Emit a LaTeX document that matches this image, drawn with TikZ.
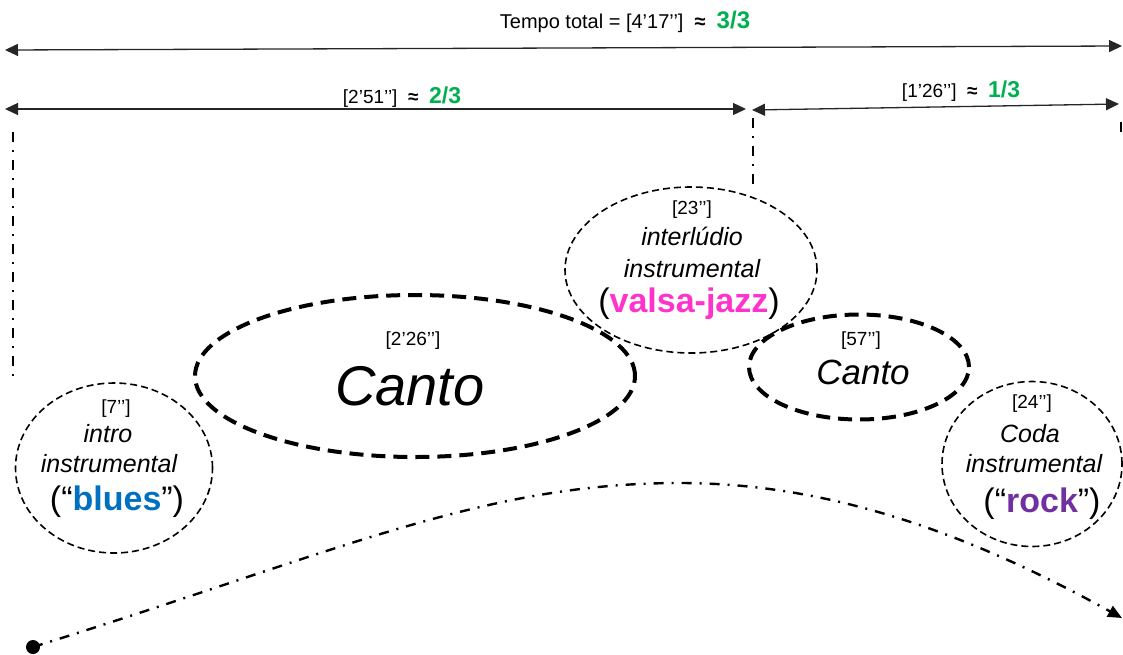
\documentclass[tikz,border=0pt]{standalone}
\usepackage{fontspec}
\setmainfont{Liberation Sans}
\usetikzlibrary{arrows.meta,shapes.geometric}
\definecolor{fracgreen}{RGB}{0,176,80}
\definecolor{bluesblue}{RGB}{0,112,192}
\definecolor{jazzpink}{RGB}{255,51,204}
\definecolor{rockpurple}{RGB}{112,48,160}
\newcommand{\fsz}[1]{\fontsize{#1}{#1}\selectfont}
\newcommand{\approxsym}{\ \ \textbf{≈}\ \ }
\begin{document}
\begin{tikzpicture}[x=1pt,y=-1pt,
  dimline/.style={draw=black!85,line width=1.3pt,
    {Triangle[length=13pt,width=12pt]}-{Triangle[length=13pt,width=12pt]}},
  guideline/.style={draw=black,line width=2.6pt,
    dash pattern=on 10pt off 8pt on 2pt off 8pt},
  thinring/.style={ellipse,draw=black,line width=1.6pt,inner sep=0pt,
    dash pattern=on 7pt off 4pt},
  thickring/.style={ellipse,draw=black,line width=4pt,inner sep=0pt,
    dash pattern=on 14pt off 8pt},
  flowcurve/.style={draw=black,line width=2.4pt,
    dash pattern=on 10pt off 8pt on 2pt off 8pt,
    -{Triangle[length=14pt,width=12pt]}},
  lbl/.style={anchor=base,inner sep=0pt},
  tag/.style={lbl,font=\fsz{19}},
  body/.style={lbl,font=\fsz{25}\itshape},
  genre/.style={lbl,font=\fsz{34}}
]
\useasboundingbox (0,0) rectangle (1123,654);

% --- time spans ---
\coordinate (tL) at (5,50);
\coordinate (tR) at (1122,46);
\draw[dimline] (tL) -- (tR);
\node[lbl,font=\fsz{20}] (ttot) at (625,28)
  {Tempo total = [4’17’’]\approxsym\textbf{\fsz{24}\color{fracgreen}3/3}};

\coordinate (aL) at (5,109);
\coordinate (aR) at (746,109);
\draw[dimline] (aL) -- (aR);
\node[lbl,font=\fsz{19}] (tA) at (402,103)
  {[2’51’’]\approxsym\textbf{\fsz{23}\color{fracgreen}2/3}};

\coordinate (bL) at (752,110);
\coordinate (bR) at (1119,104);
\draw[dimline] (bL) -- (bR);
\node[lbl,font=\fsz{19}] (tB) at (961,97)
  {[1’26’’]\approxsym\textbf{\fsz{23}\color{fracgreen}1/3}};

% --- section boundaries ---
\coordinate (g1a) at (13,132);  \coordinate (g1b) at (13,378);
\coordinate (g2a) at (753,118); \coordinate (g2b) at (753,187);
\coordinate (g3a) at (1121,122); \coordinate (g3b) at (1121,140);
\draw[guideline] (g1a) -- (g1b);
\draw[guideline] (g2a) -- (g2b);
\draw[guideline] (g3a) -- (g3b);

% --- sections ---
\node[thinring, minimum width=197pt, minimum height=170pt] (intro) at (114,468) {};
\node[thickring,minimum width=440pt, minimum height=162pt] (cantoA) at (415,376) {};
\node[thinring, minimum width=252pt, minimum height=166pt] (inter) at (691,270) {};
\node[thickring,minimum width=220pt, minimum height=105pt] (cantoB) at (859,367) {};
\node[thinring, minimum width=180pt, minimum height=165pt] (coda) at (1032,464) {};

% intro
\node[tag]  (introT) at (116,413) {[7’’]};
\node[body] (introA) at (108,442) {intro};
\node[body] (introB) at (109,472) {instrumental};
\node[genre] (introC) at (117,510) {(“\textbf{\color{bluesblue}blues}”)};

% first vocal part
\node[tag] (cantoAT) at (413,345) {[2’26’’]};
\node[lbl,font=\fsz{56}\itshape] (cantoAN) at (410,405) {Canto};

% interlude
\node[tag]  (interT) at (692,214) {[23’’]};
\node[body] (interA) at (692,245) {interlúdio};
\node[body] (interB) at (692,277) {instrumental};
\node[genre] (interC) at (689,312) {(\textbf{\color{jazzpink}valsa-jazz})};

% second vocal part
\node[tag] (cantoBT) at (861,345) {[57’’]};
\node[lbl,font=\fsz{35}\itshape] (cantoBN) at (863,384) {Canto};

% coda
\node[tag]  (codaT) at (1032,408) {[24’’]};
\node[body] (codaA) at (1030,442) {Coda};
\node[body] (codaB) at (1034,472) {instrumental};
\node[genre] (codaC) at (1042,512) {(“\textbf{\color{rockpurple}rock}”)};

% --- flow of the piece ---
\node[circle,fill=black,inner sep=0pt,minimum size=14pt] (start) at (33,647) {};
\coordinate (finish) at (1122,618);
\draw[flowcurve] (start.center) .. controls (335,553) and (480,483) .. (680,483)
  .. controls (830,483) and (970,534) .. (finish);
\end{tikzpicture}
\end{document}
